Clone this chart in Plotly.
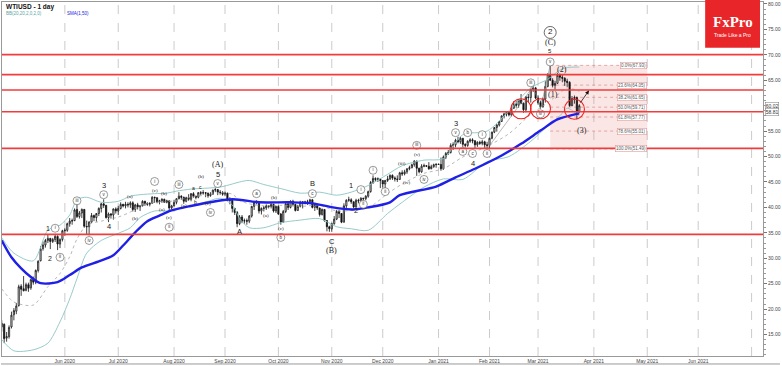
import plotly.graph_objects as go
import pandas as pd
import numpy as np

# ---------------- data ----------------
first_day, last_day = "2020-04-24", "2021-03-24"

opens = [16.5,
 17.0, 14.3, 14.6, 16.5, 18.9,
 19.6, 20.7, 24.5, 24.0, 23.7,
 24.8, 24.2, 25.8, 25.3, 27.6,
 29.5, 31.9, 32.6, 33.5, 33.9,
 33.3, 33.7, 34.3, 32.8, 33.7,
 35.4, 35.5, 36.8, 37.3, 37.4,
 39.6, 38.2, 38.9, 39.6, 36.3,
 36.2, 37.1, 38.4, 38.0, 38.8,
 39.8, 40.7, 40.4, 38.0, 38.7,
 38.5, 39.7, 39.3, 39.8, 40.6,
 40.3, 40.6, 40.5, 40.9, 39.6,
 40.5, 40.1, 40.3, 41.2, 40.8,
 40.6, 40.8, 42.0, 41.9, 41.1,
 41.3, 41.6, 41.0, 41.3, 39.9,
 40.3, 41.0, 41.7, 42.2, 42.0,
 41.2, 41.9, 41.6, 42.7, 42.2,
 42.0, 42.9, 42.8, 42.9, 42.8,
 42.3, 42.6, 43.4, 43.5, 43.0,
 42.9, 42.6, 42.8, 41.5, 41.4,
 39.8, 39.0, 36.8, 38.1, 37.3,
 37.4, 37.3, 38.3, 40.2, 41.0,
 41.1, 39.3, 39.8, 39.9, 40.3,
 40.2, 40.6, 39.3, 40.2, 38.7,
 37.1, 39.2, 40.7, 40.0, 41.2,
 40.6, 39.4, 40.2, 41.0, 41.1,
 40.9, 41.1, 41.5, 40.0, 40.6,
 39.9, 38.6, 39.6, 37.4, 36.2,
 35.8, 36.8, 37.7, 39.2, 38.8,
 37.1, 40.3, 41.4, 41.5, 41.1,
 40.1, 41.4, 41.3, 41.8, 41.7,
 42.2, 43.1, 44.9, 45.7, 45.5,
 45.6, 45.3, 44.6, 45.3, 45.6,
 46.3, 45.8, 45.6, 45.5, 46.8,
 46.6, 47.0, 47.6, 47.8, 48.4,
 49.1, 47.7, 47.0, 48.1, 48.2,
 48.1, 47.6, 48.0, 48.4, 48.5,
 48.45, 47.6, 49.9, 50.6, 50.8,
 52.2, 52.3, 53.2, 52.9, 53.6,
 52.4, 52.2, 53.0, 53.3, 53.1,
 52.3, 52.8, 52.6, 52.9, 52.3,
 52.2, 53.6, 54.8, 55.7, 56.2,
 56.9, 58.0, 58.4, 58.7, 58.2,
 59.5, 60.3, 60.1, 61.1, 60.5,
 59.2, 61.7, 61.6, 63.2, 63.5,
 61.5, 60.6, 59.8, 61.3, 63.8,
 66.1, 65.0, 64.0, 64.4, 66.0,
 65.6, 65.4, 64.8, 64.6, 60.0,
 61.4, 61.6, 58.8]

highs = [17.8,
 17.2, 15.5, 16.8, 19.5, 20.2,
 21.2, 24.8, 24.9, 26.5, 25.2,
 25.2, 26.0, 26.4, 27.8, 29.6,
 32.4, 33.3, 33.8, 34.6, 34.0,
 34.0, 34.8, 34.5, 33.9, 35.6,
 35.9, 37.0, 37.9, 37.8, 39.8,
 40.8, 39.3, 39.8, 39.7, 37.4,
 37.3, 38.9, 38.6, 38.9, 40.0,
 40.9, 41.6, 40.5, 39.0, 38.9,
 39.8, 40.0, 40.3, 41.0, 40.7,
 41.1, 41.0, 41.2, 41.2, 40.7,
 40.9, 40.4, 41.4, 41.3, 41.0,
 41.0, 42.2, 42.1, 42.0, 41.5,
 41.8, 41.7, 41.5, 41.3, 40.5,
 41.5, 41.8, 43.0, 42.4, 42.1,
 42.1, 42.6, 42.8, 43.0, 42.3,
 43.0, 43.2, 43.4, 43.0, 42.9,
 43.0, 43.5, 43.8, 43.6, 43.4,
 43.2, 43.1, 42.9, 42.0, 41.5,
 39.9, 39.3, 38.5, 38.5, 37.8,
 37.8, 38.5, 40.3, 41.2, 41.4,
 41.2, 40.0, 40.3, 40.6, 40.4,
 40.8, 40.7, 40.3, 40.4, 38.9,
 39.5, 40.9, 40.9, 41.4, 41.5,
 40.7, 40.5, 41.3, 41.1, 41.3,
 41.5, 41.7, 41.6, 40.8, 40.7,
 39.9, 39.8, 39.6, 37.5, 36.4,
 37.0, 38.3, 39.5, 39.5, 38.9,
 40.8, 41.6, 42.1, 41.8, 41.2,
 41.7, 41.7, 42.0, 41.9, 42.4,
 43.3, 45.2, 46.3, 45.9, 45.9,
 45.7, 45.3, 45.4, 46.2, 46.5,
 46.5, 46.1, 46.3, 47.0, 47.3,
 47.4, 47.7, 48.2, 48.6, 49.3,
 49.2, 47.8, 48.5, 48.6, 48.3,
 48.9, 48.4, 48.6, 48.6, 48.6,
 49.8, 50.2, 50.9, 51.3, 52.6,
 52.8, 53.5, 53.9, 53.9, 53.6,
 52.6, 53.2, 53.6, 53.6, 53.2,
 53.0, 53.1, 53.3, 53.1, 52.9,
 53.7, 54.9, 55.8, 56.4, 57.0,
 58.1, 58.6, 58.9, 58.8, 59.8,
 60.9, 60.9, 61.3, 62.3, 60.6,
 61.9, 62.3, 63.4, 63.8, 63.7,
 62.0, 61.0, 61.6, 64.8, 66.4,
 67.93, 65.4, 64.9, 66.4, 66.3,
 66.2, 65.6, 65.3, 64.8, 61.9,
 62.0, 61.8, 60.3]

lows = [15.6,
 13.3, 13.6, 14.2, 16.2, 17.8,
 19.0, 20.5, 22.6, 23.5, 23.5,
 23.4, 23.8, 24.8, 24.9, 27.2,
 29.4, 31.5, 32.1, 33.0, 31.8,
 33.0, 33.2, 31.6, 32.0, 33.3,
 34.4, 35.2, 36.2, 36.6, 37.3,
 37.9, 37.8, 37.9, 36.0, 34.6,
 34.5, 37.0, 37.3, 37.2, 38.3,
 39.0, 39.9, 37.8, 37.1, 37.8,
 37.6, 38.8, 38.5, 39.6, 40.0,
 39.8, 40.0, 39.9, 39.2, 39.1,
 39.6, 39.3, 40.2, 40.3, 40.3,
 40.2, 40.8, 40.9, 40.8, 40.6,
 40.9, 40.9, 40.8, 39.3, 39.6,
 40.2, 40.6, 41.6, 41.5, 40.7,
 41.0, 41.3, 41.2, 41.9, 41.6,
 41.8, 42.4, 42.5, 42.0, 41.9,
 42.1, 42.5, 43.0, 42.4, 42.5,
 42.3, 42.2, 41.3, 40.6, 39.0,
 38.5, 36.1, 36.5, 36.9, 36.8,
 36.6, 36.9, 38.0, 39.5, 40.6,
 38.8, 38.6, 39.2, 39.5, 39.8,
 39.8, 39.0, 38.9, 38.5, 36.6,
 37.0, 38.9, 39.5, 39.8, 40.3,
 39.2, 39.3, 40.0, 39.8, 40.6,
 40.5, 40.7, 39.8, 39.3, 39.5,
 38.2, 38.4, 37.2, 35.3, 35.2,
 35.2, 36.6, 37.5, 37.9, 36.9,
 37.0, 39.6, 41.1, 40.7, 39.8,
 39.9, 40.8, 41.0, 40.9, 41.4,
 41.9, 42.9, 44.6, 45.1, 45.0,
 43.8, 43.9, 43.6, 45.0, 45.4,
 45.4, 45.1, 45.0, 45.4, 46.2,
 46.3, 46.6, 47.3, 47.7, 48.0,
 46.2, 46.7, 46.8, 47.9, 48.0,
 47.4, 47.5, 47.8, 47.8, 48.4,
 47.2, 47.4, 49.5, 50.3, 50.6,
 51.3, 51.8, 52.6, 52.5, 51.9,
 51.8, 51.9, 52.7, 52.6, 51.5,
 51.9, 52.3, 52.2, 51.6, 51.5,
 51.6, 53.4, 54.6, 54.9, 55.9,
 56.8, 57.5, 57.9, 57.9, 57.9,
 59.4, 59.6, 59.6, 60.3, 58.6,
 58.7, 60.6, 60.6, 62.7, 61.3,
 60.2, 59.4, 59.6, 60.6, 63.6,
 64.9, 63.6, 63.2, 64.3, 64.9,
 64.6, 63.9, 63.7, 59.8, 59.9,
 60.4, 57.3, 58.6]

closes = [17.2,
 14.2, 14.6, 16.4, 18.8, 19.7,
 20.6, 24.4, 23.9, 23.6, 24.8,
 24.1, 25.8, 25.3, 27.6, 29.4,
 31.8, 32.6, 33.5, 33.9, 33.3,
 33.7, 34.3, 32.8, 33.7, 35.4,
 35.5, 36.8, 37.3, 37.4, 39.5,
 38.2, 38.9, 39.6, 36.3, 36.2,
 37.1, 38.4, 38.0, 38.8, 39.8,
 40.7, 40.4, 38.0, 38.7, 38.5,
 39.7, 39.3, 39.8, 40.6, 40.3,
 40.6, 40.5, 40.9, 39.6, 40.5,
 40.1, 40.3, 41.2, 40.8, 40.6,
 40.8, 42.0, 41.9, 41.1, 41.3,
 41.6, 41.0, 41.3, 39.9, 40.3,
 41.0, 41.7, 42.2, 42.0, 41.2,
 41.9, 41.6, 42.7, 42.2, 42.0,
 42.9, 42.8, 42.9, 42.8, 42.3,
 42.6, 43.4, 43.5, 43.0, 42.9,
 42.6, 42.8, 41.5, 41.4, 39.8,
 39.0, 36.8, 38.1, 37.3, 37.4,
 37.3, 38.3, 40.2, 41.0, 41.1,
 39.3, 39.8, 39.9, 40.3, 40.2,
 40.6, 39.3, 40.2, 38.7, 37.1,
 39.2, 40.7, 40.0, 41.2, 40.6,
 39.4, 40.2, 41.0, 41.1, 40.9,
 41.1, 41.5, 40.0, 40.6, 39.9,
 38.6, 39.6, 37.4, 36.2, 35.8,
 36.8, 37.7, 39.2, 38.8, 37.1,
 40.3, 41.4, 41.5, 41.1, 40.1,
 41.4, 41.3, 41.8, 41.7, 42.2,
 43.1, 44.9, 45.7, 45.5, 45.6,
 45.3, 44.6, 45.3, 45.6, 46.3,
 45.8, 45.6, 45.5, 46.8, 46.6,
 47.0, 47.6, 47.8, 48.4, 49.1,
 47.7, 47.0, 48.1, 48.2, 48.1,
 47.6, 48.0, 48.4, 48.5, 48.45,
 47.6, 49.9, 50.6, 50.8, 52.2,
 52.3, 53.2, 52.9, 53.6, 52.4,
 52.2, 53.0, 53.3, 53.1, 52.3,
 52.8, 52.6, 52.9, 52.3, 52.2,
 53.6, 54.8, 55.7, 56.2, 56.9,
 58.0, 58.4, 58.7, 58.2, 59.5,
 60.3, 60.1, 61.1, 60.5, 59.2,
 61.7, 61.6, 63.2, 63.5, 61.5,
 60.6, 59.8, 61.3, 63.8, 66.1,
 65.0, 64.0, 64.4, 66.0, 65.6,
 65.4, 64.8, 64.6, 60.0, 61.4,
 61.6, 58.8, 60.0]

# SMA(50) read at sample dates
sma_dates = ["2020-04-24", "2020-04-30", "2020-05-06", "2020-05-12", "2020-05-18", "2020-05-27",
             "2020-06-03", "2020-06-10", "2020-06-19", "2020-06-29", "2020-07-03", "2020-07-10",
             "2020-07-17", "2020-07-24", "2020-07-31", "2020-08-11", "2020-09-04", "2020-09-21",
             "2020-10-08", "2020-10-21", "2020-11-05", "2020-11-13", "2020-11-23", "2020-12-04",
             "2020-12-10", "2020-12-31", "2021-01-12", "2021-01-22", "2021-02-08", "2021-02-18",
             "2021-03-02", "2021-03-11", "2021-03-24"]
sma_vals = [33.5, 30.2, 28.0, 26.3, 25.1, 25.3, 26.7, 28.2, 29.4, 30.6, 32.5, 35.1,
            37.3, 38.4, 39.4, 40.2, 41.6, 41.0, 41.0, 40.8, 39.8, 39.6, 40.0, 41.0,
            42.4, 44.1, 45.9, 47.6, 50.2, 52.5, 55.1, 57.3, 58.5]

# Bollinger bands read at sample dates
bb_dates = ["2020-04-24", "2020-05-01", "2020-05-13", "2020-05-21", "2020-05-28", "2020-06-03",
            "2020-06-08", "2020-06-12", "2020-06-22", "2020-07-01", "2020-07-08", "2020-07-14",
            "2020-07-22", "2020-07-29", "2020-08-04", "2020-08-12", "2020-08-21", "2020-08-28",
            "2020-09-04", "2020-09-09", "2020-09-15", "2020-09-23", "2020-10-02", "2020-10-14",
            "2020-10-26", "2020-11-04", "2020-11-12", "2020-11-23", "2020-12-03", "2020-12-11",
            "2020-12-24", "2021-01-05", "2021-01-15", "2021-01-29", "2021-02-11", "2021-02-24",
            "2021-03-05", "2021-03-12", "2021-03-17", "2021-03-24"]
bb_upper = [34.0, 31.0, 29.5, 35.5, 36.5, 38.5, 41.5, 42.0, 41.0, 41.2, 42.2, 42.5,
            42.7, 42.8, 43.2, 43.6, 43.8, 44.0, 44.6, 45.0, 45.3, 44.5, 43.7, 42.8,
            43.0, 42.4, 43.0, 44.3, 46.5, 48.2, 49.3, 49.6, 54.3, 55.0, 59.0, 63.5,
            65.2, 67.0, 67.5, 67.6]
bb_mid = [24.0, 21.4, 20.8, 24.4, 27.0, 30.3, 33.8, 36.5, 37.3, 38.1, 39.1, 40.3,
          41.0, 41.1, 41.4, 42.0, 42.5, 42.9, 42.6, 41.4, 40.7, 40.3, 40.4, 40.2,
          40.4, 39.3, 39.4, 39.9, 42.7, 44.6, 46.7, 47.6, 49.9, 52.0, 54.5, 58.3,
          60.6, 62.5, 63.5, 62.8]
bb_lower = [14.0, 11.8, 12.0, 13.3, 17.5, 22.0, 26.0, 31.0, 33.5, 34.9, 36.0, 38.0,
            39.3, 39.3, 39.6, 40.3, 41.2, 41.8, 40.5, 37.8, 36.0, 36.0, 37.0, 37.5,
            37.8, 36.2, 35.8, 35.5, 38.8, 41.0, 44.0, 45.6, 45.5, 49.0, 50.0, 53.0,
            56.0, 58.0, 59.5, 58.0]

# horizontal support / resistance levels
red_levels = [70.05, 66.1, 63.1, 58.81, 51.6, 34.7]

# Fibonacci retracement
fib_start, fib_end = "2021-03-08", "2021-05-03"
fib_levels = [67.93, 64.05, 61.65, 59.71, 57.77, 55.01, 51.49]
fib_labels = ["0.0%(67.93)", "23.6%(64.05)", "38.2%(61.65)", "50.0%(59.71)",
              "61.8%(57.77)", "78.6%(55.01)", "100.0%(51.49)"]

# month grid / tick labels (first trading day of each month)
month_ticks = ["2020-06-01", "2020-07-01", "2020-08-03", "2020-09-01", "2020-10-01", "2020-11-02",
               "2020-12-01", "2021-01-01", "2021-02-01", "2021-03-01", "2021-04-01", "2021-05-03",
               "2021-06-01", "2021-07-01"]
month_labels = ["Jun 2020", "Jul 2020", "Aug 2020", "Sep 2020", "Oct 2020", "Nov 2020",
                "Dec 2020", "Jan 2021", "Feb 2021", "Mar 2021", "Apr 2021", "May 2021",
                "Jun 2021", ""]
price_ticks = [15, 20, 25, 30, 35, 40, 45, 50, 55, 65, 70, 75, 80]
view_start, view_end = "2020-04-24", "2021-07-07"

# Elliott wave labels (circled)
circ_dates = ["2020-05-26", "2020-05-28", "2020-06-08", "2020-06-15", "2020-06-23", "2020-07-22",
              "2020-07-30", "2020-08-05", "2020-08-24", "2020-08-27", "2020-09-18", "2020-10-02",
              "2020-10-21", "2020-11-18", "2020-11-19", "2020-11-25", "2020-12-02", "2020-12-21",
              "2020-12-24", "2021-01-12", "2021-01-15", "2021-01-19", "2021-01-21", "2021-01-27",
              "2021-01-29", "2021-02-24", "2021-03-02", "2021-03-08"]
circ_vals = [35.9, 30.2, 41.3, 33.5, 42.5, 45.1, 36.1, 44.5, 39.0, 44.7, 42.7, 34.1,
             42.7, 43.5, 40.6, 47.3, 43.1, 52.2, 45.5, 54.7, 51.0, 54.7, 50.6, 54.3,
             50.6, 64.5, 58.4, 68.6]
circ_text = ["i", "ii", "iii", "iv", "v", "i", "ii", "iii", "iv", "v", "a", "b",
             "c", "i", "ii", "i", "ii", "iii", "iv", "v", "a", "b", "c", "i",
             "ii", "iii", "iv", "v"]

# Elliott wave labels (plain, sans)
sans_dates = ["2020-05-21", "2020-05-22", "2020-06-23", "2020-06-25", "2020-08-27", "2020-09-09",
              "2020-10-21", "2020-11-02", "2020-11-12", "2020-11-16", "2021-01-12", "2021-01-21",
              "2021-03-08", "2020-08-13", "2020-08-14", "2020-08-18"]
sans_vals = [35.9, 30.0, 44.3, 36.3, 46.5, 35.3, 44.7, 33.3, 44.3, 39.4, 56.5, 48.6,
             70.8, 43.9, 41.0, 44.1]
sans_text = ["1", "2", "3", "4", "5", "A", "B", "C", "1", "2", "3", "4", "5", "a", "b", "c"]
sans_size = [7, 7, 7.5, 7.5, 7.5, 7.5, 7.5, 7.5, 7.5, 7.5, 7.5, 7.5, 6, 5, 5, 5]

# Elliott wave labels (plain, serif, parenthesised)
serif_dates = ["2020-07-08", "2020-07-10", "2020-07-22", "2020-07-28", "2020-07-27", "2020-07-30",
               "2020-08-07", "2020-08-18", "2020-08-21", "2020-08-27", "2020-09-24", "2020-09-29",
               "2020-10-02", "2020-11-02", "2020-12-11", "2020-12-15", "2020-12-21", "2021-03-09",
               "2021-03-08", "2021-03-15", "2021-03-25"]
serif_vals = [42.2, 37.8, 43.3, 42.7, 39.6, 38.0, 40.4, 46.1, 40.8, 48.4, 38.4, 42.0,
              35.9, 31.6, 48.6, 44.9, 50.4, 62.2, 72.4, 67.1, 55.1]
serif_text = ["(a)", "(b)", "(c)", "(b)", "(a)", "(c)", "(a)", "(b)", "(c)", "(A)", "(a)", "(b)",
              "(c)", "(B)", "(iii)", "(iv)", "(v)", "(1)", "(C)", "(2)", "(3)"]
serif_size = [5, 5, 5, 5, 5, 5, 5, 5, 5, 8, 5, 5, 5, 8, 5, 5, 5, 8, 8, 8, 8]

# wave guide lines (gray) and red highlight circles
guide_dates = ["2021-01-29", "2021-02-25", "2021-03-02", "2021-03-08"]
guide_vals = [51.5, 63.8, 59.4, 67.93]
ring_dates = ["2021-02-18", "2021-03-02", "2021-03-22"]
ring_vals = [59.4, 59.4, 59.3]
arrow_from, arrow_to = ("2021-03-24", 60.3), ("2021-03-30", 63.0)


# ---------------- position helpers ----------------
def bar(d):
    """Trading-bar position of a date (weekday count from the first bar)."""
    return int(np.busday_count(first_day, str(pd.Timestamp(d).date())))


def bars(ds):
    return [bar(d) for d in ds]


W, H = 782, 366
L, R, T, B = 1, 764, 1, 356


def px(x):
    return (x - L) / (R - L)


def py(y):
    return (B - y) / (B - T)


dates = pd.bdate_range(first_day, last_day)
assert len(dates) == len(opens) == len(highs) == len(lows) == len(closes)
xs = bars(dates)

fig = go.Figure()

# Bollinger bands
bb_line = dict(color="#8cc4c4", width=0.9, shape="spline", smoothing=0.8)
fig.add_trace(go.Scatter(x=bars(bb_dates), y=bb_upper, mode="lines", line=bb_line, hoverinfo="skip"))
fig.add_trace(go.Scatter(x=bars(bb_dates), y=bb_lower, mode="lines", line=bb_line, hoverinfo="skip"))
fig.add_trace(go.Scatter(x=bars(bb_dates), y=bb_mid, mode="lines",
                         line=dict(color="#9a9a9a", width=0.7, dash="dot", shape="spline", smoothing=0.8),
                         hoverinfo="skip"))

# candles
fig.add_trace(go.Candlestick(
    x=xs, open=opens, high=highs, low=lows, close=closes,
    increasing=dict(line=dict(color="#111111", width=0.8), fillcolor="#ffffff"),
    decreasing=dict(line=dict(color="#111111", width=0.8), fillcolor="#111111"),
    whiskerwidth=0, hoverinfo="skip"))

# SMA 50
fig.add_trace(go.Scatter(x=bars(sma_dates), y=sma_vals, mode="lines",
                         line=dict(color="#1f1fe6", width=2.4, shape="spline", smoothing=0.8), hoverinfo="skip"))

# guide lines
fig.add_trace(go.Scatter(x=bars(guide_dates), y=guide_vals, mode="lines",
                         line=dict(color="#888888", width=0.6), hoverinfo="skip"))

# circled labels
fig.add_trace(go.Scatter(x=bars(circ_dates), y=circ_vals, mode="markers+text", text=circ_text,
                         textposition="middle center",
                         textfont=dict(family="Liberation Sans", size=4.5, color="#333333"),
                         marker=dict(symbol="circle", size=8, color="rgba(255,255,255,0.9)",
                                     line=dict(color="#555555", width=0.6)), hoverinfo="skip"))
fig.add_trace(go.Scatter(x=[bar("2021-03-08")], y=[74.4], mode="markers+text", text=["2"],
                         textposition="middle center",
                         textfont=dict(family="Liberation Sans", size=8, color="#222222"),
                         marker=dict(symbol="circle", size=12, color="white",
                                     line=dict(color="#444444", width=0.8)), hoverinfo="skip"))

# plain labels
for d, v, t, s in zip(sans_dates, sans_vals, sans_text, sans_size):
    fig.add_annotation(x=bar(d), y=v, text=t, showarrow=False,
                       font=dict(family="Liberation Sans", size=s, color="#222222"))
for d, v, t, s in zip(serif_dates, serif_vals, serif_text, serif_size):
    fig.add_annotation(x=bar(d), y=v, text=t, showarrow=False,
                       font=dict(family="Liberation Serif", size=s, color="#222222"))

shapes = []
# month grid lines
for d in month_ticks:
    shapes.append(dict(type="line", xref="x", yref="paper", x0=bar(d), x1=bar(d), y0=0, y1=1,
                       line=dict(color="#a8a8a8", width=0.6, dash="dash"), layer="below"))
# fib rectangle
shapes.append(dict(type="rect", xref="x", yref="y", x0=bar(fib_start), x1=bar(fib_end),
                   y0=fib_levels[-1], y1=fib_levels[0], fillcolor="rgba(235,140,140,0.22)",
                   line=dict(width=0), layer="below"))
for lv in fib_levels:
    shapes.append(dict(type="line", xref="x", yref="y", x0=bar(fib_start), x1=bar(fib_end), y0=lv, y1=lv,
                       line=dict(color="#d07878", width=0.6, dash="dot"), layer="below"))
# red horizontal levels
for lv in red_levels:
    shapes.append(dict(type="line", xref="paper", yref="y", x0=0, x1=1, y0=lv, y1=lv,
                       line=dict(color="#f03c3c", width=1.6), layer="above"))
# red rings
for d, v in zip(ring_dates, ring_vals):
    shapes.append(dict(type="circle", xref="x", yref="y", xsizemode="pixel", ysizemode="pixel",
                       xanchor=bar(d), yanchor=v, x0=-10, x1=10, y0=-10, y1=10,
                       line=dict(color="#ee2222", width=1.1), layer="above"))
# logo box
shapes.append(dict(type="rect", xref="paper", yref="paper", x0=px(706), x1=px(761),
                   y0=py(47), y1=py(-1), fillcolor="#e8262a", line=dict(width=0), layer="above"))
# outer frame bottom line
shapes.append(dict(type="line", xref="paper", yref="paper", x0=px(0), x1=px(781), y0=py(364), y1=py(364),
                   line=dict(color="#999999", width=1)))
fig.update_layout(shapes=shapes)

# fib labels
for lv, lab in zip(fib_levels, fib_labels):
    fig.add_annotation(x=bar(fib_end), y=lv, text=lab, showarrow=False, xanchor="right",
                       font=dict(family="Liberation Sans", size=4.5, color="#555555"),
                       bgcolor="white", bordercolor="#e09a9a", borderwidth=0.6, borderpad=0.5)

# arrow
fig.add_annotation(x=bar(arrow_to[0]), y=arrow_to[1], ax=bar(arrow_from[0]), ay=arrow_from[1],
                   axref="x", ayref="y", xref="x", yref="y", text="", showarrow=True,
                   arrowhead=2, arrowsize=1, arrowwidth=0.8, arrowcolor="#111111")

# price boxes on axis
for v in [60.02, 58.81]:
    fig.add_annotation(xref="paper", x=1.0, y=v, yref="y", text=f"{v:.2f}", showarrow=False,
                       xanchor="left", font=dict(family="Liberation Sans", size=5, color="#333333"),
                       bgcolor="white", bordercolor="#777777", borderwidth=0.5, borderpad=0.3, xshift=2)

# header texts
fig.add_annotation(xref="paper", yref="paper", x=px(3), y=py(6), text="<b>WTIUSD - 1 day</b>",
                   showarrow=False, xanchor="left", yanchor="middle",
                   font=dict(family="Liberation Sans", size=6.5, color="#111111"))
fig.add_annotation(xref="paper", yref="paper", x=px(3), y=py(13), text="BB(20,20,2,0,2,0)",
                   showarrow=False, xanchor="left", yanchor="middle",
                   font=dict(family="Liberation Sans", size=4.5, color="#5aa5a5"))
fig.add_annotation(xref="paper", yref="paper", x=px(64), y=py(13), text="SMA(1,50)",
                   showarrow=False, xanchor="left", yanchor="middle",
                   font=dict(family="Liberation Sans", size=4.5, color="#2222dd"))

# logo texts
fig.add_annotation(xref="paper", yref="paper", x=px(733.5), y=py(21), text="<b>FxPro</b>",
                   showarrow=False, xanchor="center", yanchor="middle",
                   font=dict(family="Liberation Serif", size=15, color="white"))
fig.add_annotation(xref="paper", yref="paper", x=px(733.5), y=py(34), text="Trade Like a Pro",
                   showarrow=False, xanchor="center", yanchor="middle",
                   font=dict(family="Liberation Sans", size=5, color="white"))

fig.update_layout(
    width=W, height=H,
    margin=dict(l=L, r=W - R, t=T, b=H - B),
    paper_bgcolor="white", plot_bgcolor="white",
    showlegend=False,
    xaxis=dict(
        type="linear", range=[bar(view_start) + 0.1, bar(view_end) + 0.7],
        rangeslider=dict(visible=False),
        tickmode="array", tickvals=bars(month_ticks), ticktext=month_labels,
        showgrid=False, ticks="",
        tickfont=dict(family="Liberation Sans", size=5, color="#444444"),
        showline=True, linecolor="#999999", linewidth=1, mirror=True, zeroline=False,
    ),
    yaxis=dict(
        side="right", range=[10.78, 80.39],
        tickmode="array", tickvals=price_ticks, tickformat=".2f",
        ticks="outside", ticklen=3, tickcolor="#777777",
        minor=dict(tickmode="linear", tick0=0, dtick=1, ticklen=1.5, tickcolor="#999999", showgrid=False),
        showgrid=False, zeroline=False,
        tickfont=dict(family="Liberation Sans", size=5, color="#444444"),
        showline=True, linecolor="#999999", linewidth=1, mirror=True,
    ),
)

fig.write_html("out.html")
